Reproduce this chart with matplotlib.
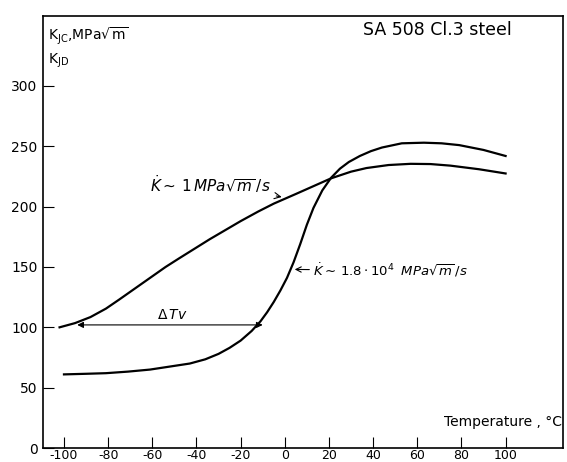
import matplotlib.pyplot as plt

plt.rcParams['mathtext.fontset'] = 'dejavusans'
plt.rcParams['axes.unicode_minus'] = False

# K_JC curve, K-dot ~ 1 MPa sqrt(m)/s
temp_static = [-102, -95, -88, -81, -75, -68, -61, -54, -48, -41, -34, -27, -20,
               -12, -5, 0, 5, 13, 21, 30, 37, 47, 57, 66, 75, 88, 100]
k_static = [100, 103.5, 108.5, 115.5, 123, 132, 141, 150, 157, 165, 173, 180.5, 188,
            196, 202.5, 206.5, 210.5, 217, 223.5, 229, 232, 234.5, 235.5, 235.3, 234,
            231, 227.5]

# K_JD curve, K-dot ~ 1.8e4 MPa sqrt(m)/s
temp_dyn = [-100, -90, -81, -71, -61, -52, -43, -36, -30, -25, -20, -15, -11, -8,
            -5, -2, 1, 4, 7, 10, 13, 17, 21, 25, 29, 34, 39, 44, 53, 63, 71, 79,
            90, 100]
k_dyn = [61, 61.5, 62, 63.3, 65, 67.5, 70, 73.5, 78, 83, 89, 97, 105, 112.5,
         121, 130.5, 141, 154, 169, 185, 199, 213.5, 224, 231.5, 237, 242, 246, 249,
         252.5, 253, 252.5, 251, 247, 242]

xticks = [-100, -80, -60, -40, -20, 0, 20, 40, 60, 80, 100]
yticks = [0, 50, 100, 150, 200, 250, 300]

fig = plt.figure(figsize=(5.67, 4.62), dpi=100)
ax = fig.add_axes([43 / 567, 14 / 462, 520 / 567, 432 / 462])

ax.plot(temp_static, k_static, color='black', lw=1.6)
ax.plot(temp_dyn, k_dyn, color='black', lw=1.6)

# delta Tv arrow
ax.annotate('', xy=(-94, 102), xytext=(-10, 102),
            arrowprops=dict(arrowstyle='<|-|>', color='black', lw=0.8,
                            mutation_scale=9, shrinkA=0, shrinkB=0))
ax.text(-51, 110.5, r'$\Delta\,Tv$', fontsize=10, ha='center', va='center')

ax.annotate(r'$\dot{K}\sim\,1\,MPa\sqrt{m}\,/s$', xy=(-1.4, 208), xytext=(-61, 219),
            fontsize=11, va='center',
            arrowprops=dict(arrowstyle='->', color='black', lw=0.8,
                            shrinkA=2, shrinkB=0))
ax.annotate(r'$\dot{K}\sim\,1.8\cdot10^4\;\;MPa\sqrt{m}\,/s$', xy=(4.5, 148),
            xytext=(13, 147), fontsize=9.5, va='center',
            arrowprops=dict(arrowstyle='->', color='black', lw=0.8,
                            shrinkA=1, shrinkB=0))

ax.text(0.01, 0.978, r'$\mathrm{K_{JC}}$,MPa$\sqrt{\mathrm{m}}$', transform=ax.transAxes,
        fontsize=10, va='top')
ax.text(0.01, 0.918, r'$\mathrm{K_{JD}}$', transform=ax.transAxes, fontsize=10, va='top')
ax.text(0.902, 0.968, 'SA 508 Cl.3 steel', transform=ax.transAxes, fontsize=12.5,
        ha='right', va='center')
ax.text(0.998, 0.045, 'Temperature , °C', transform=ax.transAxes, fontsize=10,
        ha='right', va='bottom')

ax.set_xlim(-109.5, 126)
ax.set_ylim(0, 358)
ax.set_xticks(xticks)
ax.set_yticks(yticks)
ax.tick_params(direction='in', length=8, width=0.8, labelsize=10)
ax.tick_params(axis='x', pad=1, labelsize=9)
ax.tick_params(axis='y', pad=4)
for s in ax.spines.values():
    s.set_linewidth(1.2)

fig.savefig('out.png', dpi=100)
